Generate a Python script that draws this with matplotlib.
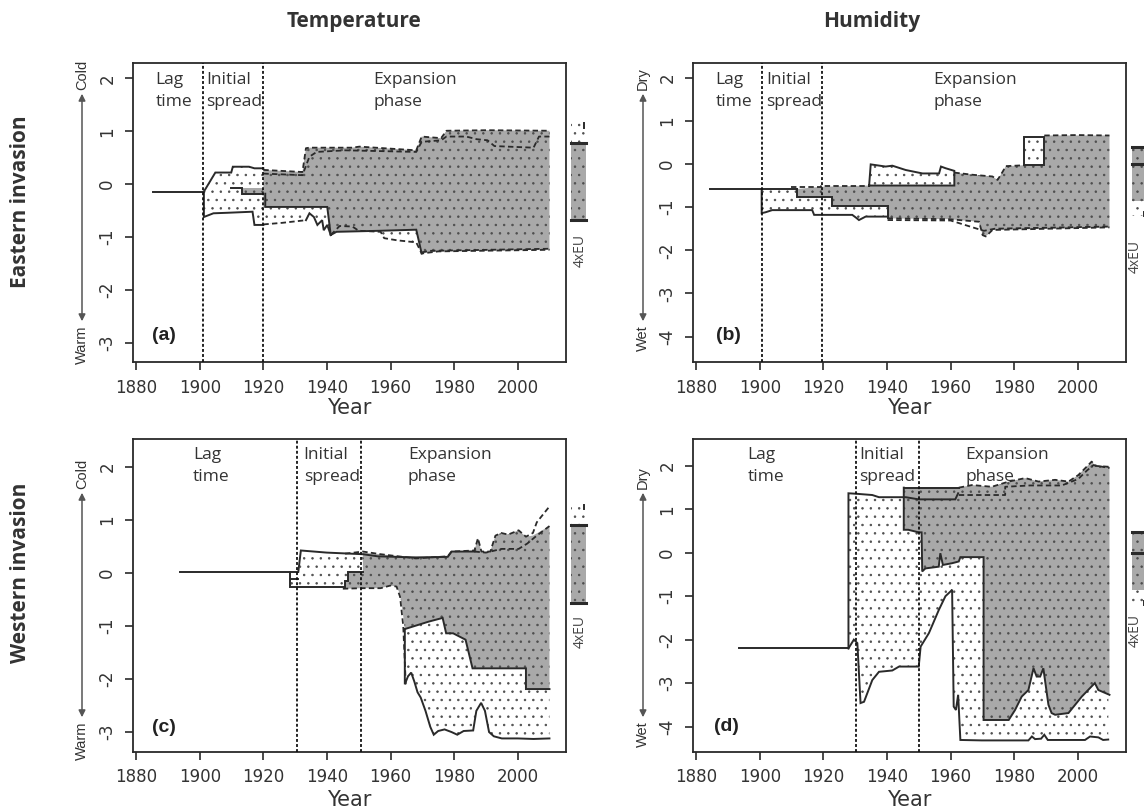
import numpy as np
import matplotlib
matplotlib.use("Agg")
import matplotlib.pyplot as plt
import matplotlib.transforms as mtransforms
from matplotlib.patches import FancyArrowPatch, Rectangle

W, H = 1144, 810
INK = "#2a2a2a"
GRAY = "#a9a9a9"
DOT = "#4d4d4d"
TXT = "#333333"

plt.rcParams["hatch.linewidth"] = 0.55
plt.rcParams["font.family"] = ["DejaVu Sans"]
plt.rcParams["axes.unicode_minus"] = False

YEAR_TICKS = [1880, 1900, 1920, 1940, 1960, 1980, 2000]
XLIM = (1879, 2015.2)

# ---------------- (a) Eastern invasion, temperature ----------------
A_PHASES = [1901, 1920]
A_LAG_X = [1885.3, 1901.3]
A_LAG_Y = [-0.14, -0.14]
A_SU_X = [1901.3, 1904.9, 1909.9, 1910.4, 1915.5, 1917.2, 1920.0]
A_SU_Y = [-0.14, 0.22, 0.22, 0.33, 0.33, 0.30, 0.30]
A_SL_X = [1901.3, 1901.3, 1904.3, 1908.8, 1916.6, 1917.2, 1920.0]
A_SL_Y = [-0.14, -0.62, -0.55, -0.54, -0.52, -0.77, -0.77]
A_NOTCH_X = [1909.9, 1913.2, 1913.2, 1920.0]
A_NOTCH_Y = [-0.08, -0.08, -0.18, -0.18]
A_MID_X = [1920.6, 1920.6, 1940.1, 1941.2]
A_MID_Y = [-0.18, -0.43, -0.43, -0.96]
A_DL1_X = [1920.0, 1926.0, 1933.4]
A_DL1_Y = [-0.76, -0.73, -0.68]
A_JAG_X = [1933.4, 1934.5, 1935.9, 1937.0, 1938.5, 1939.0, 1940.1, 1941.2]
A_JAG_Y = [-0.68, -0.55, -0.62, -0.77, -0.68, -0.87, -0.77, -0.96]
A_DU1_X = [1920.0, 1932.3, 1933.4, 1934.5, 1948.0, 1950.2, 1968.1, 1969.8, 1975.9, 1977.6, 1990.5, 2010.0]
A_DU1_Y = [0.27, 0.23, 0.68, 0.69, 0.69, 0.71, 0.64, 0.90, 0.87, 1.01, 1.02, 1.01]
A_DU2_X = [1920.0, 1932.3, 1934.5, 1936.8, 1945.7, 1968.1, 1969.8, 1975.9, 1977.6, 1983.8,
           1987.1, 1990.5, 1992.7, 2005.0, 2006.7, 2010.0]
A_DU2_Y = [0.20, 0.17, 0.52, 0.61, 0.64, 0.61, 0.80, 0.83, 0.90, 0.90,
           0.85, 0.83, 0.72, 0.69, 0.90, 0.90]
A_SLO_X = [1941.2, 1943.0, 1956.9, 1968.1, 1969.8]
A_SLO_Y = [-0.96, -0.90, -0.88, -0.86, -1.31]
A_DLO_X = [1941.2, 1944.0, 1948.0, 1950.0, 1956.9, 1958.0, 1962.0, 1968.1, 1969.8, 1975.0, 2010.0]
A_DLO_Y = [-0.96, -0.79, -0.80, -0.88, -0.90, -1.02, -1.06, -1.10, -1.31, -1.27, -1.24]
A_DLO2_X = [1969.8, 1972.0, 2010.0]
A_DLO2_Y = [-1.29, -1.26, -1.22]
A_GB_X = [1920.0, 1940.1, 1941.2, 1943.0, 1968.1, 1969.8, 1975.0, 2010.0]
A_GB_Y = [-0.43, -0.43, -0.96, -0.90, -0.86, -1.31, -1.27, -1.23]
A_EU = dict(gray=(-0.68, 0.77), dots=(0.77, 1.15), thick=[0.77, -0.68])

# ---------------- (b) Eastern invasion, humidity ----------------
B_PHASES = [1900.6, 1919.6]
B_LAG_X = [1884.5, 1911.8]
B_LAG_Y = [-0.58, -0.58]
B_DU0_X = [1909.7, 1919.2, 1919.2, 1934.4]
B_DU0_Y = [-0.53, -0.53, -0.50, -0.50]
B_STEP_X = [1911.8, 1911.8, 1922.8, 1922.8, 1940.2, 1940.2]
B_STEP_Y = [-0.58, -0.76, -0.76, -0.97, -0.97, -1.26]
B_SL_X = [1900.6, 1900.6, 1901.8, 1903.9, 1916.5, 1917.1, 1929.1, 1930.2, 1931.2, 1933.3, 1940.2]
B_SL_Y = [-0.58, -1.14, -1.12, -1.07, -1.07, -1.18, -1.18, -1.24, -1.30, -1.22, -1.22]
B_BUMP_X = [1934.4, 1934.4, 1934.9, 1939.6, 1941.7, 1945.9, 1951.2, 1956.4, 1957.0, 1958.5, 1961.2, 1961.2, 1934.4]
B_BUMP_Y = [-0.50, -0.50, -0.01, -0.06, -0.04, -0.14, -0.22, -0.22, -0.06, -0.10, -0.16, -0.50, -0.50]
B_DU1_X = [1961.2, 1966.9, 1973.2, 1974.8, 1976.4, 1977.4, 1983.2]
B_DU1_Y = [-0.20, -0.25, -0.29, -0.37, -0.18, -0.05, -0.03]
B_BOX_X = [1983.2, 1983.2, 1989.5, 1989.5, 1983.2]
B_BOX_Y = [-0.03, 0.63, 0.63, -0.03, -0.03]
B_DU2_X = [1989.5, 2000.0, 2010.0]
B_DU2_Y = [0.66, 0.67, 0.66]
B_DL_X = [1940.2, 1959.6, 1969.0, 1970.1, 1971.1, 1973.2, 2010.0]
B_DL_Y = [-1.26, -1.28, -1.34, -1.65, -1.68, -1.53, -1.47]
B_DL2_X = [1940.2, 1960.0, 1970.5, 1974.0, 2010.0]
B_DL2_Y = [-1.30, -1.31, -1.55, -1.50, -1.45]
B_GT_X = [1911.8, 1919.2, 1934.4, 1961.2, 1961.2, 1966.9, 1973.2, 1974.8, 1976.4, 1977.4,
          1983.2, 1989.5, 1989.5, 2010.0]
B_GT_Y = [-0.58, -0.53, -0.50, -0.50, -0.20, -0.25, -0.29, -0.37, -0.18, -0.05,
          -0.03, -0.03, 0.66, 0.66]
B_GB_X = [1911.8, 1922.8, 1922.8, 1940.2, 1940.2, 1959.6, 1969.0, 1970.1, 1971.1, 1973.2, 2010.0]
B_GB_Y = [-0.76, -0.76, -0.97, -0.97, -1.26, -1.28, -1.34, -1.65, -1.68, -1.53, -1.47]
B_EU = dict(gray=(-0.85, 0.40), dots=(-1.20, -0.85), thick=[0.40, 0.0])

# ---------------- (c) Western invasion, temperature ----------------
C_PHASES = [1930.7, 1950.7]
C_LAG_X = [1893.9, 1931.0]
C_LAG_Y = [0.02, 0.02]
C_DIP_X = [1928.5, 1928.5, 1931.0]
C_DIP_Y = [0.02, -0.12, -0.12]
C_SU_X = [1931.0, 1931.8, 1940.0, 1951.3, 1956.0, 1968.0, 1978.0, 1979.2, 1986.4]
C_SU_Y = [0.02, 0.42, 0.38, 0.35, 0.31, 0.29, 0.30, 0.40, 0.40]
C_SL_X = [1928.5, 1928.5, 1945.7, 1945.7, 1946.6, 1946.6, 1951.3]
C_SL_Y = [-0.12, -0.26, -0.26, -0.16, -0.16, 0.02, 0.02]
C_DU_X = [1945.7, 1951.3, 1956.9, 1968.0, 1978.0, 1979.2, 1986.4, 1987.5, 1988.6, 1991.4,
          1993.0, 1994.8, 1997.0, 2000.3, 2002.6, 2004.8, 2006.0, 2010.0]
C_DU_Y = [0.36, 0.40, 0.35, 0.27, 0.31, 0.40, 0.42, 0.65, 0.40, 0.40,
          0.70, 0.75, 0.72, 0.80, 0.68, 0.75, 0.95, 1.25]
C_DU2_X = [1986.4, 1990.0, 1995.0, 2000.3, 2003.0, 2006.0, 2010.0]
C_DU2_Y = [0.40, 0.38, 0.45, 0.45, 0.55, 0.70, 0.88]
C_GT_X = [1945.7, 1946.6, 1946.6, 1951.3, 1951.3, 1956.9, 1968.0, 1978.0, 1979.2, 1986.4, 1987.5,
          1988.6, 1991.4, 1993.0, 1994.8, 1997.0, 2000.3, 2002.6, 2004.8, 2010.0]
C_GT_Y = [-0.16, -0.16, 0.02, 0.02, 0.38, 0.35, 0.27, 0.31, 0.40, 0.42, 0.65,
          0.40, 0.40, 0.70, 0.75, 0.72, 0.80, 0.68, 0.70, 0.88]
C_GB_X = [1945.7, 1951.3, 1956.9, 1960.0, 1961.9, 1963.0, 1964.2, 1964.5, 1972.0, 1976.4,
          1977.5, 1979.7, 1983.6, 1985.8, 2002.6, 2002.6, 2010.0]
C_GB_Y = [-0.30, -0.29, -0.29, -0.24, -0.26, -0.40, -0.90, -1.06, -0.92, -0.85,
          -1.14, -1.14, -1.26, -1.80, -1.80, -2.19, -2.19]
C_DL_X = [1945.0, 1951.3, 1956.9, 1960.0, 1961.9, 1963.0, 1964.0, 1964.8]
C_DL_Y = [-0.30, -0.29, -0.29, -0.24, -0.26, -0.45, -1.00, -2.10]
C_LOW_X = [1964.5, 1964.5, 1965.5, 1966.5, 1967.5, 1968.5, 1969.5, 1971.0, 1972.5, 1973.6,
           1975.0, 1977.0, 1979.2, 1981.0, 1983.0, 1986.0, 1987.0, 1988.5, 1989.7, 1991.0,
           1992.5, 1995.0, 2000.0, 2005.0, 2010.0]
C_LOW_Y = [-1.06, -2.10, -1.95, -1.88, -2.05, -2.25, -2.35, -2.60, -2.90, -3.05,
           -2.98, -2.95, -3.00, -3.05, -2.98, -2.97, -2.60, -2.45, -2.60, -3.00,
           -3.08, -3.12, -3.12, -3.13, -3.12]
C_EU = dict(gray=(-0.57, 0.90), dots=(0.90, 1.28), thick=[0.90, -0.57])

# ---------------- (d) Western invasion, humidity ----------------
D_PHASES = [1930.2, 1950.1]
D_LAG_X = [1893.6, 1927.9]
D_LAG_Y = [-2.2, -2.2]
D_SU_X = [1927.9, 1927.9, 1930.2, 1935.4, 1937.5, 1945.9, 1950.0, 1961.5, 1962.4]
D_SU_Y = [-2.2, 1.37, 1.36, 1.33, 1.28, 1.28, 1.23, 1.23, 1.37]
D_SL_X = [1927.9, 1929.6, 1930.7, 1931.7, 1932.8, 1935.4, 1937.5, 1941.7, 1943.8, 1950.0,
          1950.6, 1953.2, 1956.3, 1958.4, 1960.0, 1960.5, 1961.0, 1961.7, 1962.4, 1963.1,
          1969.9, 1984.5, 1985.6, 1986.6, 1988.5, 1989.5, 1990.6, 2002.3, 2003.9, 2006.5,
          2008.0, 2009.6]
D_SL_Y = [-2.20, -2.00, -2.08, -3.46, -3.43, -2.93, -2.74, -2.71, -2.62, -2.62,
          -2.16, -1.85, -1.32, -1.00, -0.89, -0.85, -3.54, -3.62, -3.27, -4.31,
          -4.32, -4.32, -4.23, -4.29, -4.28, -4.19, -4.31, -4.31, -4.23, -4.25,
          -4.31, -4.30]
D_GT_X = [1945.3, 1962.6, 1966.8, 1973.0, 1978.3, 1983.5, 1987.7, 1992.9, 1997.1, 2000.2,
          2002.8, 2004.4, 2005.6, 2010.0]
D_GT_Y = [1.50, 1.50, 1.56, 1.52, 1.64, 1.72, 1.64, 1.68, 1.64, 1.79,
          1.98, 2.10, 2.00, 1.98]
D_GB_X = [1945.3, 1945.3, 1946.7, 1950.0, 1950.9, 1951.1, 1952.1, 1956.3, 1956.8, 1957.6,
          1960.5, 1962.6, 1963.1, 1970.4, 1970.4, 1978.3, 1980.3, 1982.4, 1984.5, 1986.1,
          1987.1, 1988.2, 1989.2, 1990.8, 1991.8, 1992.9, 1997.1, 2001.3, 2005.4, 2006.5,
          2010.0]
D_GB_Y = [1.50, 0.53, 0.53, 0.47, 0.47, -0.43, -0.36, -0.32, -0.01, -0.28,
          -0.24, -0.20, -0.10, -0.10, -3.85, -3.85, -3.62, -3.31, -3.16, -2.66,
          -2.85, -2.85, -2.66, -3.50, -3.69, -3.73, -3.69, -3.31, -3.00, -3.16,
          -3.27]
D_DU2_X = [1962.6, 1977.2, 1977.2, 1985.0, 1995.0, 2000.2, 2003.0, 2005.0, 2010.0]
D_DU2_Y = [1.33, 1.33, 1.52, 1.55, 1.55, 1.70, 1.90, 2.02, 1.95]
D_EU = dict(gray=(-0.86, 0.48), dots=(-1.20, -0.86), thick=[0.48, 0.0])

# phase labels: x position (year) of each label
A_LABEL_X = [1886.0, 1902.0, 1954.7]
B_LABEL_X = [1886.0, 1902.0, 1954.6]
C_LABEL_X = [1897.8, 1932.7, 1965.5]
D_LABEL_X = [1896.2, 1931.3, 1964.6]
PHASE_WORDS = [("Lag", "time"), ("Initial", "spread"), ("Expansion", "phase")]


def fig_xy(px, py):
    return px / W, 1 - py / H


def make_axes(fig, left, top, right, bottom):
    x0, y1 = fig_xy(left, top)
    x1, y0 = fig_xy(right, bottom)
    return fig.add_axes([x0, y0, x1 - x0, y1 - y0])


def region(ax, ux, uy, lx, ly, face, z):
    xs = np.concatenate([np.asarray(ux, float), np.asarray(lx, float)[::-1]])
    ys = np.concatenate([np.asarray(uy, float), np.asarray(ly, float)[::-1]])
    ax.fill(xs, ys, facecolor=face, edgecolor=DOT, linewidth=0, hatch="..", zorder=z)


def solid(ax, x, y):
    ax.plot(x, y, color=INK, lw=1.4, zorder=5, solid_joinstyle="miter")


def dashed(ax, x, y):
    ax.plot(x, y, color=INK, lw=1.3, ls=(0, (3, 1.8)), zorder=5)


def style_axes(ax, ylim, yticks):
    ax.set_xlim(*XLIM)
    ax.set_ylim(*ylim)
    ax.set_xticks(YEAR_TICKS)
    ax.set_yticks(yticks)
    ax.tick_params(direction="out", length=6, width=1.2, color=INK, pad=6,
                   labelsize=12, labelcolor=TXT)
    ax.tick_params(axis="y", labelrotation=90)
    for lab in ax.get_yticklabels():
        lab.set_va("center")
    for sp in ax.spines.values():
        sp.set_color(INK)
        sp.set_linewidth(1.3)


def phase_lines(ax, years):
    for yr in years:
        ax.axvline(yr, color="#111111", lw=1.3, ls=(0, (1.6, 1.2)), zorder=6)


def phase_labels(ax, xs, y1, y2):
    tr = mtransforms.blended_transform_factory(ax.transData, ax.transAxes)
    for x, (w1, w2) in zip(xs, PHASE_WORDS):
        ax.text(x, y1, w1, transform=tr, family="Open Sans", fontsize=12.5,
                color=TXT, ha="left", va="center")
        ax.text(x, y2, w2, transform=tr, family="Open Sans", fontsize=12.5,
                color=TXT, ha="left", va="center")


def eu_bar(ax, eu, x0, label_x, label_y):
    tr = mtransforms.blended_transform_factory(ax.transAxes, ax.transData)
    w = 0.033
    glo, ghi = eu["gray"]
    dlo, dhi = eu["dots"]
    ax.add_patch(Rectangle((x0, glo), w, ghi - glo, transform=tr, clip_on=False,
                           facecolor=GRAY, edgecolor=DOT, lw=0, hatch=".."))
    ax.add_patch(Rectangle((x0, dlo), w, dhi - dlo, transform=tr, clip_on=False,
                           facecolor="white", edgecolor=DOT, lw=0, hatch=".."))
    for t in eu["thick"]:
        ax.plot([x0, x0 + w], [t, t], transform=tr, clip_on=False, color=INK, lw=2.2)
    # small end marker of the dotted range
    top = dhi > ghi
    end = dhi if top else dlo
    ax.plot([x0 + w * 0.85] * 2, [end, end - 0.08 if top else end + 0.08],
            transform=tr, clip_on=False, color=INK, lw=1.4)
    ax.text(label_x, label_y, "4xEU", transform=tr, rotation=90, ha="center",
            va="center", family="Open Sans", fontsize=10, color="#444444")


def side_arrow(fig, px, top, bottom, up, down):
    x, y0 = fig_xy(px, top)
    _, y1 = fig_xy(px, bottom)
    fig.add_artist(FancyArrowPatch((x, y1), (x, y0), transform=fig.transFigure,
                                   arrowstyle="<|-|>", mutation_scale=10, lw=1.1,
                                   color="#555555"))
    fig.text(x, y0 + 1 / H, up, rotation=90, ha="center", va="bottom",
             family="Liberation Sans", fontsize=10.5, color=TXT)
    fig.text(x, y1 - 1 / H, down, rotation=90, ha="center", va="top",
             family="Liberation Sans", fontsize=10.5, color=TXT)


def panel_letter(ax, x, y, s):
    ax.text(x, y, s, transform=ax.transAxes, family="Liberation Sans",
            fontweight="bold", fontsize=14, color="#222222", ha="left", va="center")


fig = plt.figure(figsize=(W / 100, H / 100), dpi=100)
fig.patch.set_facecolor("white")

ax_a = make_axes(fig, 133, 63, 566, 362)
ax_b = make_axes(fig, 693, 63, 1126, 362)
ax_c = make_axes(fig, 133, 439, 566, 751.7)
ax_d = make_axes(fig, 693, 439, 1126, 751.7)

# ---- panel (a)
ax = ax_a
region(ax, A_SU_X + A_DU1_X, A_SU_Y + A_DU1_Y,
       A_SL_X + A_DL1_X + A_JAG_X + A_DLO_X, A_SL_Y + A_DL1_Y + A_JAG_Y + A_DLO_Y, "white", 1)
region(ax, A_NOTCH_X, [-0.08] * len(A_NOTCH_X), A_NOTCH_X, A_NOTCH_Y, GRAY, 2)
region(ax, A_DU1_X, A_DU1_Y, A_GB_X, A_GB_Y, GRAY, 2)
solid(ax, A_LAG_X, A_LAG_Y)
solid(ax, A_SU_X, A_SU_Y)
solid(ax, A_SL_X, A_SL_Y)
solid(ax, A_NOTCH_X, A_NOTCH_Y)
solid(ax, A_MID_X, A_MID_Y)
solid(ax, A_JAG_X, A_JAG_Y)
solid(ax, A_SLO_X, A_SLO_Y)
dashed(ax, A_DL1_X, A_DL1_Y)
dashed(ax, A_DU1_X, A_DU1_Y)
dashed(ax, A_DU2_X, A_DU2_Y)
dashed(ax, A_DLO_X, A_DLO_Y)
dashed(ax, A_DLO2_X, A_DLO2_Y)
phase_lines(ax, A_PHASES)
style_axes(ax, (-3.36, 2.29), [-3, -2, -1, 0, 1, 2])
phase_labels(ax, A_LABEL_X, 0.943, 0.870)
eu_bar(ax, A_EU, 1.0125, 1.032, -1.25)
panel_letter(ax, 0.044, 0.09, "(a)")

# ---- panel (b)
ax = ax_b
B_WT_X = B_LAG_X[-1:] + B_DU0_X + B_BUMP_X[1:10] + B_DU1_X + [1983.2, 1989.5] + B_DU2_X
B_WT_Y = B_LAG_Y[-1:] + B_DU0_Y + B_BUMP_Y[1:10] + B_DU1_Y + [0.63, 0.63] + B_DU2_Y
region(ax, [1900.6] + B_WT_X, [-0.58] + B_WT_Y, B_SL_X + B_DL_X, B_SL_Y + B_DL_Y, "white", 1)
region(ax, B_GT_X, B_GT_Y, B_GB_X, B_GB_Y, GRAY, 2)
solid(ax, B_LAG_X, B_LAG_Y)
solid(ax, B_STEP_X, B_STEP_Y)
solid(ax, B_SL_X, B_SL_Y)
solid(ax, B_BUMP_X, B_BUMP_Y)
solid(ax, B_BOX_X, B_BOX_Y)
dashed(ax, B_DU0_X, B_DU0_Y)
dashed(ax, B_DU1_X, B_DU1_Y)
dashed(ax, B_DU2_X, B_DU2_Y)
dashed(ax, B_DL_X, B_DL_Y)
dashed(ax, B_DL2_X, B_DL2_Y)
phase_lines(ax, B_PHASES)
style_axes(ax, (-4.59, 2.34), [-4, -3, -2, -1, 0, 1, 2])
phase_labels(ax, B_LABEL_X, 0.943, 0.870)
eu_bar(ax, B_EU, 1.013, 1.0215, -2.15)
panel_letter(ax, 0.053, 0.09, "(b)")

# ---- panel (c)
ax = ax_c
region(ax, [1928.5, 1931.0] + C_SU_X[1:4], [-0.12, -0.12] + C_SU_Y[1:4],
       [1928.5, 1945.7, 1951.3], [-0.26, -0.26, -0.29], "white", 1)
region(ax, C_GB_X[7:], C_GB_Y[7:], C_LOW_X, C_LOW_Y, "white", 1)
region(ax, C_GT_X, C_GT_Y, C_GB_X, C_GB_Y, GRAY, 2)
solid(ax, C_LAG_X, C_LAG_Y)
solid(ax, C_DIP_X, C_DIP_Y)
solid(ax, C_SU_X, C_SU_Y)
solid(ax, C_SL_X, C_SL_Y)
solid(ax, C_GB_X[7:], C_GB_Y[7:])
solid(ax, C_LOW_X, C_LOW_Y)
dashed(ax, C_DU_X, C_DU_Y)
dashed(ax, C_DU2_X, C_DU2_Y)
dashed(ax, C_DL_X, C_DL_Y)
phase_lines(ax, C_PHASES)
style_axes(ax, (-3.37, 2.52), [-3, -2, -1, 0, 1, 2])
phase_labels(ax, C_LABEL_X, 0.949, 0.877)
eu_bar(ax, C_EU, 1.0125, 1.032, -1.11)
panel_letter(ax, 0.044, 0.076, "(c)")

# ---- panel (d)
ax = ax_d
region(ax, D_SU_X + [2010.0], D_SU_Y + [1.37], D_SL_X, D_SL_Y, "white", 1)
region(ax, D_GT_X, D_GT_Y, D_GB_X, D_GB_Y, GRAY, 2)
solid(ax, D_LAG_X, D_LAG_Y)
solid(ax, D_SU_X, D_SU_Y)
solid(ax, D_SL_X, D_SL_Y)
solid(ax, D_GT_X[:2], D_GT_Y[:2])
solid(ax, D_GB_X, D_GB_Y)
dashed(ax, D_GT_X[1:], D_GT_Y[1:])
dashed(ax, D_DU2_X, D_DU2_Y)
phase_lines(ax, D_PHASES)
style_axes(ax, (-4.58, 2.62), [-4, -3, -2, -1, 0, 1, 2])
phase_labels(ax, D_LABEL_X, 0.949, 0.877)
eu_bar(ax, D_EU, 1.013, 1.0215, -1.80)
panel_letter(ax, 0.048, 0.08, "(d)")

# ---- x labels
for ax, yy in ((ax_a, 408), (ax_b, 408), (ax_c, 800), (ax_d, 800)):
    bb = ax.get_position()
    fig.text((bb.x0 + bb.x1) / 2, 1 - yy / H, "Year", ha="center", va="center",
             fontsize=15, color=TXT)

# ---- side arrows
side_arrow(fig, 82, 91, 324, "Cold", "Warm")
side_arrow(fig, 643, 91, 324, "Dry", "Wet")
side_arrow(fig, 82, 490, 720, "Cold", "Warm")
side_arrow(fig, 643, 490, 720, "Dry", "Wet")

# ---- column and row headers
for px, s in ((354, "Temperature"), (872, "Humidity")):
    fx, fy = fig_xy(px, 22)
    fig.text(fx, fy, s, ha="center", va="center", family="Open Sans",
             fontweight="bold", fontsize=15, color=TXT)
for py, s in ((202, "Eastern invasion"), (573, "Western invasion")):
    fx, fy = fig_xy(21, py)
    fig.text(fx, fy, s, ha="center", va="center", rotation=90, family="Open Sans",
             fontweight="bold", fontsize=15, color=TXT)

fig.savefig("out.png", dpi=100, facecolor="white")
